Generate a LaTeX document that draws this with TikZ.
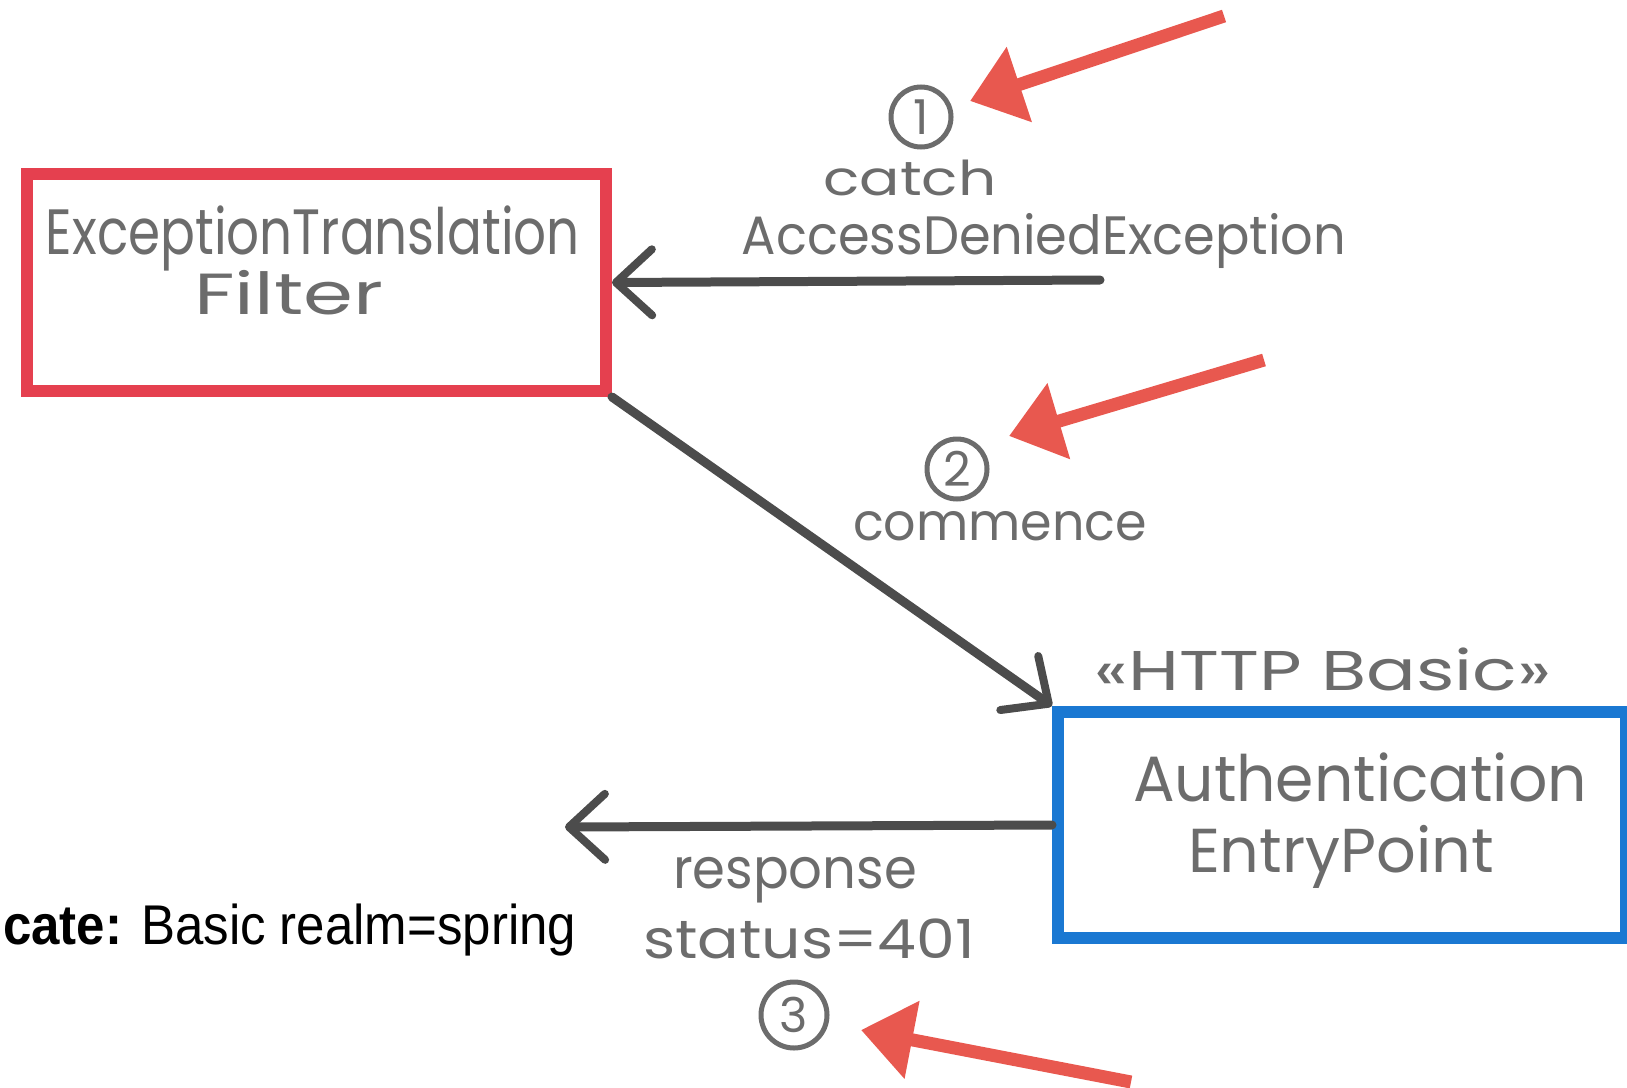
\documentclass[tikz,border=0pt]{standalone}
\usepackage{fontspec}
\setmainfont{Liberation Sans}
\newfontfamily\hand{Poppins}
\usetikzlibrary{arrows.meta}
\definecolor{boxred}{HTML}{E5404F}
\definecolor{boxblue}{HTML}{1A78D2}
\definecolor{markred}{HTML}{E8584F}
\definecolor{pencil}{HTML}{6C6C6C}
\definecolor{lead}{HTML}{4C4C4C}
% hand lettering: font size #2, stretched to width #1 (in pt)
\newcommand\hw[3]{\resizebox{#1pt}{\height}{\fontsize{#2}{#2}\selectfont #3}}
\tikzset{
  crayonbox/.style={draw, line width=12pt, inner sep=0pt},
  lettering/.style={font=\hand, text=pencil, inner sep=0pt, anchor=base},
  flow/.style={draw=lead, line width=9pt, line cap=round,
    -{Straight Barb[length=36pt, width=66pt, line width=8pt, round]}},
  pointer/.style={draw=markred, line width=13pt,
    -{Triangle[length=52pt, width=76pt]}, fill=markred},
  stepmark/.style={circle, draw=pencil, line width=5pt, inner sep=0pt,
    font=\hand\fontsize{48}{48}\selectfont, text=pencil},
}
\begin{document}
\begin{tikzpicture}[x=1pt, y=-1pt]
\useasboundingbox (0,0) rectangle (1627,1087);

% the two components
\node[crayonbox, draw=boxred, minimum width=579pt, minimum height=217pt] (etf) at (316.5,282.5) {};
\node[crayonbox, draw=boxblue, minimum width=568pt, minimum height=226pt] (aep) at (1342,825) {};

\node[lettering] (etfa) at (313,254) {\hw{534}{64}{ExceptionTranslation}};
\node[lettering] (etfb) at (289,314) {\hw{189}{58}{Filter}};
\node[lettering] (aepa) at (1360,801) {\hw{454}{64}{Authentication}};
\node[lettering] (aepb) at (1341,872) {\hw{306}{62}{EntryPoint}};
\node[lettering] (stereo) at (1323,690) {\hw{457}{56}{«HTTP Basic»}};

% step 1: exception caught
\coordinate (catchfrom) at (1100,280);
\draw[flow] (catchfrom) -- (etf.east);
\node[stepmark, minimum size=60pt] (s1) at (921,117) {1};
\node[lettering] (l1a) at (910,195) {\hw{173}{48}{catch}};
\node[lettering] (l1b) at (1044,254) {\hw{604}{54}{AccessDeniedException}};

% step 2: commence
\draw[flow] (etf.south east) -- (aep.north west);
\node[stepmark, minimum size=60pt] (s2) at (957,469) {2};
\node[lettering] (l2) at (1000,540) {\hw{294}{52}{commence}};

% step 3: response
\coordinate (respto) at (565,827);
\draw[flow] (aep.west) -- (respto);
\node[lettering] (l3a) at (795,888) {\hw{244}{56}{response}};
\node[lettering] (l3b) at (809,958) {\hw{332}{54}{status=401}};
\node[stepmark, minimum size=66pt] (s3) at (794,1015) {3};

% header line
\node[anchor=base west, inner sep=0pt] (hdr) at (3,944)
  {\resizebox{573pt}{\height}{\fontsize{56}{56}\selectfont\textbf{cate:} Basic realm=spring}};

% red pointers at the step numbers
\coordinate (p1from) at (1224,16);  \coordinate (p1to) at (970,101);
\coordinate (p2from) at (1264,360); \coordinate (p2to) at (1009,436);
\coordinate (p3from) at (1131,1082); \coordinate (p3to) at (861,1030);
\draw[pointer] (p1from) -- (p1to);
\draw[pointer] (p2from) -- (p2to);
\draw[pointer] (p3from) -- (p3to);
\end{tikzpicture}
\end{document}
